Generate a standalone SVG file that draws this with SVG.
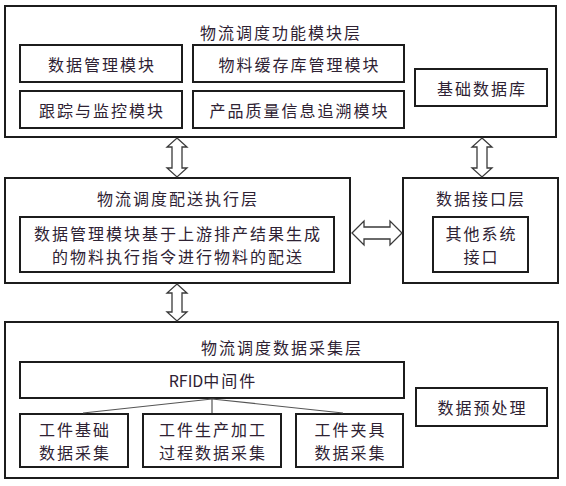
<svg xmlns="http://www.w3.org/2000/svg" width="566" height="486" viewBox="0 0 566 486">
<style>
.box{fill:#ffffff;stroke:#1c1c1c;stroke-width:2}
.t{font-family:"Noto Sans CJK SC","Noto Sans",sans-serif;font-size:16px;fill:#2e2233;text-anchor:middle;dominant-baseline:central;letter-spacing:2px}
.arr{fill:#ffffff;stroke:#3a3a3a;stroke-width:1.3;stroke-linejoin:miter}
.ln{stroke:#555;stroke-width:1.2;fill:none}
</style>
<rect x="0" y="0" width="566" height="486" fill="#ffffff"/>
<g id="layer-function">
<rect class="box" x="5" y="6" width="551" height="131"/>
<text class="t" x="281" y="32">物流调度功能模块层</text>
</g>
<g id="data-mgmt"><rect class="box" x="20" y="45" width="162" height="37"/><text class="t" x="102" y="63.5">数据管理模块</text></g>
<g id="material-cache"><rect class="box" x="193" y="45" width="211" height="37"/><text class="t" x="299.5" y="63.5">物料缓存库管理模块</text></g>
<g id="tracking"><rect class="box" x="20" y="91" width="162" height="37"/><text class="t" x="102" y="109.5">跟踪与监控模块</text></g>
<g id="quality"><rect class="box" x="193" y="91" width="211" height="37"/><text class="t" x="299.5" y="109.5">产品质量信息追溯模块</text></g>
<g id="base-db"><rect class="box" x="415" y="69" width="132" height="37"/><text class="t" x="482" y="87.5">基础数据库</text></g>

<g id="layer-delivery">
<rect class="box" x="5" y="178" width="345" height="105"/>
<text class="t" x="178" y="198">物流调度配送执行层</text>
</g>
<g id="delivery-detail"><rect class="box" x="20" y="217" width="314" height="55"/>
<text class="t" x="178" y="233">数据管理模块基于上游排产结果生成</text>
<text class="t" x="178" y="256">的物料执行指令进行物料的配送</text></g>

<g id="layer-interface">
<rect class="box" x="403" y="178" width="155" height="105"/>
<text class="t" x="481" y="198">数据接口层</text>
</g>
<g id="other-system"><rect class="box" x="433" y="217" width="95" height="55"/>
<text class="t" x="481.5" y="233">其他系统</text>
<text class="t" x="481.5" y="256">接口</text></g>

<g id="layer-collection">
<rect class="box" x="5" y="322" width="553" height="156"/>
<text class="t" x="282" y="347">物流调度数据采集层</text>
</g>
<g id="rfid"><rect class="box" x="20" y="362" width="384" height="36"/><text class="t" x="213" y="380"><tspan letter-spacing="0">RFID</tspan>中间件</text></g>
<g id="basic-collect"><rect class="box" x="20" y="414" width="108" height="53"/>
<text class="t" x="75" y="429">工件基础</text><text class="t" x="75" y="452">数据采集</text></g>
<g id="process-collect"><rect class="box" x="143" y="414" width="138" height="53"/>
<text class="t" x="213" y="429">工件生产加工</text><text class="t" x="213" y="452">过程数据采集</text></g>
<g id="fixture-collect"><rect class="box" x="296" y="414" width="107" height="53"/>
<text class="t" x="350.5" y="429">工件夹具</text><text class="t" x="350.5" y="452">数据采集</text></g>
<g id="preprocess"><rect class="box" x="416" y="388" width="131" height="38"/><text class="t" x="482.5" y="407">数据预处理</text></g>

<g id="connectors">
<polygon class="arr" points="177,138 187,147 182,147 182,168 187,168 177,177 167,168 172,168 172,147 167,147"/>
<polygon class="arr" points="482,138 492,147 487,147 487,168 492,168 482,177 472,168 477,168 477,147 472,147"/>
<polygon class="arr" points="177,284 187,293 182,293 182,312 187,312 177,321 167,312 172,312 172,293 167,293"/>
<polygon class="arr" points="352,233 364,221 364,227 390,227 390,221 402,233 390,245 390,239 364,239 364,245"/>
<line class="ln" x1="212" y1="399" x2="83" y2="413"/>
<line class="ln" x1="212" y1="399" x2="212" y2="413"/>
<line class="ln" x1="212" y1="399" x2="343" y2="413"/>
</g>
</svg>
